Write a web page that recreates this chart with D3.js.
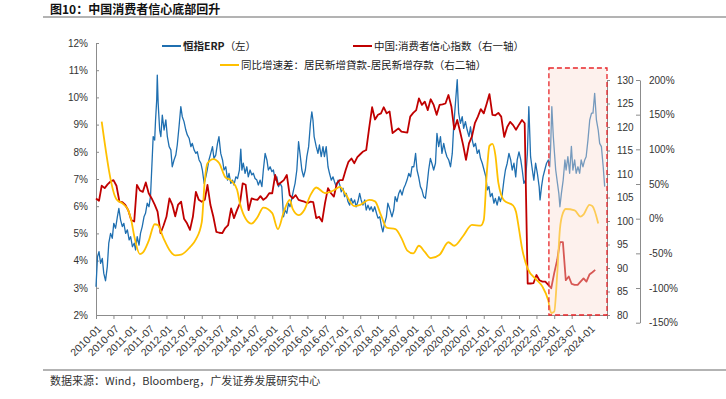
<!DOCTYPE html>
<html><head><meta charset="utf-8">
<script src="https://cdn.jsdelivr.net/npm/d3@7"></script>
<style>
body{margin:0;background:#fff}
svg{display:block}
.ax text{font-family:"Liberation Sans",Arial,sans-serif;font-size:10px;fill:#333}
.cjk{font-family:"Noto Sans CJK SC",sans-serif}
</style>
</head><body>
<svg id="c" width="726" height="399"></svg>
<script>
// ---------------- DATA ----------------
const title = "图10：中国消费者信心底部回升";
const source = "数据来源：Wind，Bloomberg，广发证券发展研究中心";
const seriesNames = ["恒指ERP（左）", "中国:消费者信心指数（右一轴）", "同比增速差：居民新增貸款-居民新增存款（右二轴）"];

// 恒指ERP (%), [months since erpStart, value]
const erpStart = "2010-01-01";
const erpPoints = [
[0,3.04],[0.5,4.14],[1,4.33],[1.6,3.9],[2.2,4.08],[2.7,3.53],[3.3,3.26],[3.9,3.78],[4.4,4.64],[5,5.0],[5.6,4.82],[6.1,5.37],[6.7,5.19],[7.3,5.61],[7.8,5.92],[8.4,5.49],[9,5.25],[9.5,5.37],[10.1,5.0],[10.7,5.13],[11.3,4.76],[11.8,4.88],[12.4,4.51],[13,4.64],[13.5,4.39],[14.1,4.88],[14.7,4.57],[15.2,5.0],[15.8,5.25],[16.4,5.61],[16.9,5.74],[17.5,6.11],[18.1,5.98],[18.6,6.35],[19.2,7.82],[19.5,8.56],[20,8.43],[20.3,9.17],[20.7,9.9],[20.9,10.82],[21.2,9.78],[21.7,8.8],[22.1,8.56],[22.6,9.35],[23.2,8.8],[23.8,9.17],[24.3,8.56],[24.9,8.19],[25.5,8.07],[26,7.45],[26.6,7.7],[27.2,7.88],[27.7,8.25],[28.3,8.92],[28.9,9.66],[29.4,9.29],[30,9.11],[30.6,8.8],[31.1,8.62],[31.7,8.5],[32.3,8.19],[32.8,8.31],[33.4,8.07],[34,7.94],[34.5,8.0],[35.1,7.7],[35.7,7.58],[36.2,7.33],[36.8,6.84],[37.4,7.08],[37.9,7.33],[38.5,7.7],[39.1,7.94],[39.7,8.19],[40.2,7.76],[40.8,7.88],[41.4,8.31],[41.9,8.56],[42.5,7.94],[43.1,7.7],[43.6,7.33],[44.2,7.45],[44.8,6.96],[45.3,7.21],[45.9,6.84],[46.5,6.96],[47,6.78],[47.6,7.08],[48.2,7.02],[48.8,7.33],[49.3,8.1],[49.7,7.33],[50.2,7.58],[50.8,7.21],[51.4,7.45],[51.9,7.08],[52.5,7.33],[53.1,7.15],[53.6,7.21],[54.2,7.02],[54.8,6.96],[55.3,6.78],[55.9,6.96],[56.5,6.72],[57,7.33],[57.6,7.94],[58.2,7.7],[58.7,7.33],[59.3,7.45],[59.9,7.27],[60.4,7.33],[61,6.96],[61.6,7.08],[62.2,6.72],[62.7,6.84],[63.3,6.72],[63.9,5.61],[64.4,5.86],[65,5.74],[65.6,6.11],[66.1,5.98],[66.7,6.29],[67.3,6.6],[67.8,6.84],[68.4,7.33],[69,8.37],[69.6,7.82],[70.1,7.33],[70.7,7.08],[71.3,7.33],[71.8,7.82],[72.4,8.19],[73,9.05],[73.5,9.47],[73.9,9.17],[74.3,8.56],[75,8.19],[75.6,7.94],[76.1,8.25],[76.7,7.82],[77.3,8.19],[77.8,7.82],[78.4,8.19],[79,7.45],[79.5,7.21],[80.1,6.96],[80.7,7.08],[81.2,6.9],[81.8,6.72],[82.4,6.96],[83,6.78],[83.5,6.53],[84.1,6.66],[84.6,6.35],[85.2,6.47],[85.8,6.17],[86.4,6.04],[86.9,6.29],[87.5,6.11],[88.1,6.23],[88.6,5.98],[89.2,6.17],[89.8,6.47],[90.3,6.23],[90.9,6.04],[91.5,6.23],[92,5.86],[92.6,6.04],[93.2,5.86],[93.7,5.98],[94.3,5.8],[94.9,5.98],[95.5,5.74],[96,5.56],[96.6,5.61],[97.2,5.25],[97.7,5.06],[98.3,5.37],[98.9,5.61],[99.4,6.11],[100,5.92],[100.8,5.61],[101.4,5.86],[101.9,6.35],[102.5,6.17],[103.1,6.47],[103.6,6.6],[104.2,6.41],[104.8,6.66],[105.3,6.78],[105.9,6.96],[106.5,7.21],[107.1,7.08],[107.6,7.45],[108.2,7.45],[108.8,7.94],[109.3,7.33],[109.9,7.08],[110.5,6.72],[111,6.6],[111.6,6.35],[112.2,6.29],[112.7,6.72],[113.3,7.33],[113.9,7.76],[114.4,7.58],[115,7.33],[115.6,7.58],[116.1,8.68],[116.7,8.19],[117.3,8.56],[117.8,7.94],[118.4,8.31],[119,8.0],[119.5,7.82],[120.1,7.7],[120.7,7.45],[121.3,7.94],[121.8,8.92],[122.4,9.78],[123,10.65],[123.5,9.42],[124.1,9.05],[124.7,9.29],[125.2,8.86],[125.8,9.11],[126.4,8.8],[127,8.56],[127.5,8.92],[128.1,8.43],[128.6,8.19],[129.2,8.31],[129.8,7.94],[130.4,8.07],[130.9,7.76],[131.5,7.58],[132.1,7.33],[132.7,7.08],[133.2,6.6],[133.8,6.72],[134.3,6.35],[134.9,6.47],[135.5,6.11],[136,6.29],[136.6,6.04],[137.2,6.35],[137.7,6.17],[138.3,6.41],[138.9,6.96],[139.4,7.33],[140,7.58],[140.6,7.94],[141.2,7.7],[141.7,7.33],[142.3,7.58],[142.9,7.08],[143.4,7.7],[144,8.0],[144.6,7.7],[145.1,7.33],[145.7,6.84],[146.3,6.96],[146.9,7.94],[147.4,9.66],[148,7.82],[148.6,7.33],[149.1,6.96],[149.7,7.58],[150.3,7.21],[150.9,6.72],[151.2,6.23],[151.7,6.72],[152.2,7.08],[152.8,7.33],[153.4,7.58],[154,7.7],[154.5,7.45],[154.8,8.19],[155.2,9.66],[155.7,8.56],[156.1,7.94],[156.5,7.33],[157.1,6.84],[157.6,6.47],[158,5.98],[158.5,6.47],[159.1,6.96],[159.7,7.7],[160.1,7.33],[160.7,7.82],[161.3,7.21],[161.9,8.2],[162.4,7.33],[163,7.7],[163.5,7.21],[164.1,7.45],[164.7,7.21],[165.2,7.7],[165.8,7.45],[166.4,7.7],[166.9,7.82],[167.5,8.43],[168.1,9.17],[168.7,9.42],[169.2,9.42],[169.8,10.15],[170.4,9.17],[171,8.8],[171.5,8.31],[172.1,8.19],[172.7,7.45],[173.2,6.72]
];

// 中国:消费者信心指数, monthly from confStart
const confStart = "2010-01-01";
const confValues = [
104.8,104.3,107.5,107,107.8,108.4,108.7,107.5,104.1,104,103.4,102.3,
100.2,99.9,107.7,106.5,106.2,108.2,105.9,104.8,103.5,102,97.4,99,
100.9,104.8,103.5,101,103.5,104.1,100.5,99.5,98.1,100.9,106.2,104.5,
104.1,104.5,107.7,103.4,100.9,97.7,97.5,97.4,98.5,99.1,102.7,100.6,
102.3,103.8,108,107.7,102.3,104.8,104.6,104.5,105.3,104.5,105,105.9,
105.9,109.8,107.7,108.2,108.7,109.8,105.5,104.8,105.5,104.5,104.3,104.1,
103.8,104.1,104,100.6,100.9,99.9,103.8,107,105.9,105.2,108,108.7,
108.7,110.9,112.6,113.3,112.3,113.6,114.2,114.8,115.1,119.7,124.2,121.6,
122.6,122.9,124.2,122.9,123.3,118.7,119.2,119.7,119,118.9,118.8,122.2,
123,123.6,126.1,124.7,125.4,123.6,125.9,124.7,122.6,124.7,124.8,125,
126.8,124.3,119.5,121.5,119,116.2,113,116.5,118,120.8,122.2,123.8,
122.9,125,127,122.6,122.5,123,122.2,117.9,120,121.1,120.4,119.4,
120.5,121.5,120.8,86.7,86.7,86.8,88.5,87.4,87.1,87.1,86.4,85.7,
88.9,91.7,95.5,95.5,87.4,88.2,86.6,86.4,86.4,87.1,87.8,87.1,
88.6,89.1,89.6
];

// 同比增速差 (%), [months since spreadStart, value]
const spreadStart = "2010-01-01";
const spreadPoints = [
[2,140],[7,28],[9,22],[11,12],[12,-2],[13,-25],[15,-51],[16,-49],[18,-32],[20,-8],[21,-9],[23,-28],
[25,-45],[27,-53],[29,-52],[32,-41],[34,-30],[36,-5],[37,55],[38,80],[40,86],[42,80],[44,60],[46,55],
[48,42],[49,22],[51,0],[53,-7],[55,2],[57,16],[60,8],[62,-15],[64,10],[66,27],[67,14],[69,5],[71,13],
[73,34],[75,45],[78,37],[81,41],[83,46],[85,35],[88,18],[90,20],[93,27],[95,25],[97,5],[99,-13],
[102,-15],[104,-28],[106,-46],[108,-50],[110,-39],[112,-48],[114,-57],[117,-52],[120,-34],[122,-39],
[125,-25],[128,-9],[131,-10],[132,-2],[133,65],[134,105],[135,108],[136,92],[137,52],[139,26],[142,19],
[143,10],[144,-15],[145,-42],[147,-72],[150,-88],[152,-98],[154,-118],[155,-136],[156,-134],[157,-80],
[158,-15],[159,8],[160,14],[163,12],[165,3],[166,6],[168,20],[169,18],[171,-7]
];

const leftTicks = [2,3,4,5,6,7,8,9,10,11,12];
const right1Ticks = [80,85,90,95,100,105,110,115,120,125,130];
const right2Ticks = [-150,-100,-50,0,50,100,150,200];
const xDomain = ["2010-01-01","2024-07-01"];
const highlightFrom = "2022-11-07";
const highlightTopPct = 11.08;

// ---------------- CHART ----------------
const parse = d3.utcParse("%Y-%m-%d");
function monthDate(base, m){
  const f = Math.floor(m);
  const a = d3.utcMonth.offset(base, f), b = d3.utcMonth.offset(base, f+1);
  return new Date(+a + (m-f)*(b-a));
}
const svg = d3.select("#c");
const L=96, R=607, T=43, B=315;

const x = d3.scaleUtc().domain(xDomain.map(parse)).range([L,R]);
const yL = d3.scaleLinear().domain([2,12]).range([B,T]);
const yR1 = d3.scaleLinear().domain([80,130]).range([B,80]);
const yR2 = d3.scaleLinear().domain([-150,200]).range([322.7,80]);

// title
svg.append("text").attr("class","cjk").attr("x",50).attr("y",14)
  .attr("font-size",12).attr("font-weight",700).attr("fill","#111").text(title);
svg.append("line").attr("x1",43).attr("x2",726).attr("y1",17).attr("y2",17)
  .attr("stroke","#9a9a9a").attr("stroke-width",1.5);
svg.append("line").attr("x1",43).attr("x2",726).attr("y1",370).attr("y2",370)
  .attr("stroke","#9a9a9a").attr("stroke-width",1.5);
svg.append("text").attr("class","cjk").attr("x",50).attr("y",385)
  .attr("font-size",11).attr("fill","#333").text(source);

// axes
const axL = svg.append("g").attr("class","ax").attr("transform",`translate(${L},0)`)
  .call(d3.axisLeft(yL).tickValues(leftTicks).tickFormat(d=>d+"%").tickSizeInner(-3).tickSizeOuter(0).tickPadding(8));
const axR1 = svg.append("g").attr("class","ax").attr("transform",`translate(${R},0)`)
  .call(d3.axisRight(yR1).tickValues(right1Ticks).tickFormat(d3.format("d")).tickSizeInner(3).tickSizeOuter(0).tickPadding(7));
const axR2 = svg.append("g").attr("class","ax").attr("transform",`translate(640,0)`)
  .call(d3.axisRight(yR2).tickValues(right2Ticks).tickFormat(d=>d+"%").tickSizeInner(-4).tickSizeOuter(0).tickPadding(9));
const xTicks = d3.utcMonth.every(6).range(parse("2010-01-01"), d3.utcDay.offset(parse(xDomain[1]),1));
const fmt = d3.utcFormat("%Y-%m");
const axX = svg.append("g").attr("class","ax").attr("transform",`translate(0,${B})`)
  .call(d3.axisBottom(x).tickValues(xTicks).tickFormat(d=> +d===+parse(xDomain[1]) ? "" : fmt(d)).tickSizeInner(4).tickSizeOuter(0));
axX.selectAll("text").attr("x",0).attr("y",0).attr("dy","0.35em").style("font-size","10.5px")
  .attr("transform","translate(3,12) rotate(-45)").style("text-anchor","end");
[axL,axR1,axR2,axX].forEach(g=>{g.selectAll("path,line").attr("stroke","#8c8c8c");});

// lines
const erpLine = d3.line().x(d=>x(monthDate(parse(erpStart),d[0]))).y(d=>yL(d[1]));
const confLine = d3.line().x((d,i)=>x(d3.utcMonth.offset(parse(confStart),i))).y(d=>yR1(d));
const spreadLine = d3.line().curve(d3.curveMonotoneX).x(d=>x(monthDate(parse(spreadStart),d[0]))).y(d=>yR2(d[1]));

svg.append("path").datum(erpPoints).attr("d",erpLine).attr("fill","none")
  .attr("stroke","#1f6fb0").attr("stroke-width",1.3).attr("stroke-linejoin","round");
svg.append("path").datum(confValues).attr("d",confLine).attr("fill","none")
  .attr("stroke","#c00000").attr("stroke-width",1.8).attr("stroke-linejoin","round");
svg.append("path").datum(spreadPoints).attr("d",spreadLine).attr("fill","none")
  .attr("stroke","#ffc000").attr("stroke-width",1.8);

// highlight box
const hx = x(parse(highlightFrom)), hy = yL(highlightTopPct);
svg.append("rect").attr("x",hx).attr("y",hy).attr("width",R-hx).attr("height",B-hy)
  .attr("fill","rgb(250,220,210)").attr("fill-opacity",0.4)
  .attr("stroke","#e8262a").attr("stroke-width",1.3).attr("stroke-dasharray","5,3");

// legend
const leg = [
  {name:seriesNames[0], color:"#1f6fb0", x1:162, x2:181, y:46},
  {name:seriesNames[1], color:"#c00000", x1:353, x2:372, y:46},
  {name:seriesNames[2], color:"#ffc000", x1:220, x2:239, y:65}
];
leg.forEach((l,i)=>{
  svg.append("line").attr("x1",l.x1).attr("x2",l.x2).attr("y1",l.y).attr("y2",l.y)
    .attr("stroke",l.color).attr("stroke-width",2);
  const t = svg.append("text").attr("class","cjk").attr("x",l.x2+2).attr("y",l.y+4)
    .attr("font-size",10.5).attr("fill","#222");
  if (i===0) {
    const k = l.name.indexOf("（");
    t.append("tspan").attr("font-weight",700).text(l.name.slice(0,k));
    t.append("tspan").text(l.name.slice(k));
  } else t.text(l.name);
});
</script>
</body></html>
